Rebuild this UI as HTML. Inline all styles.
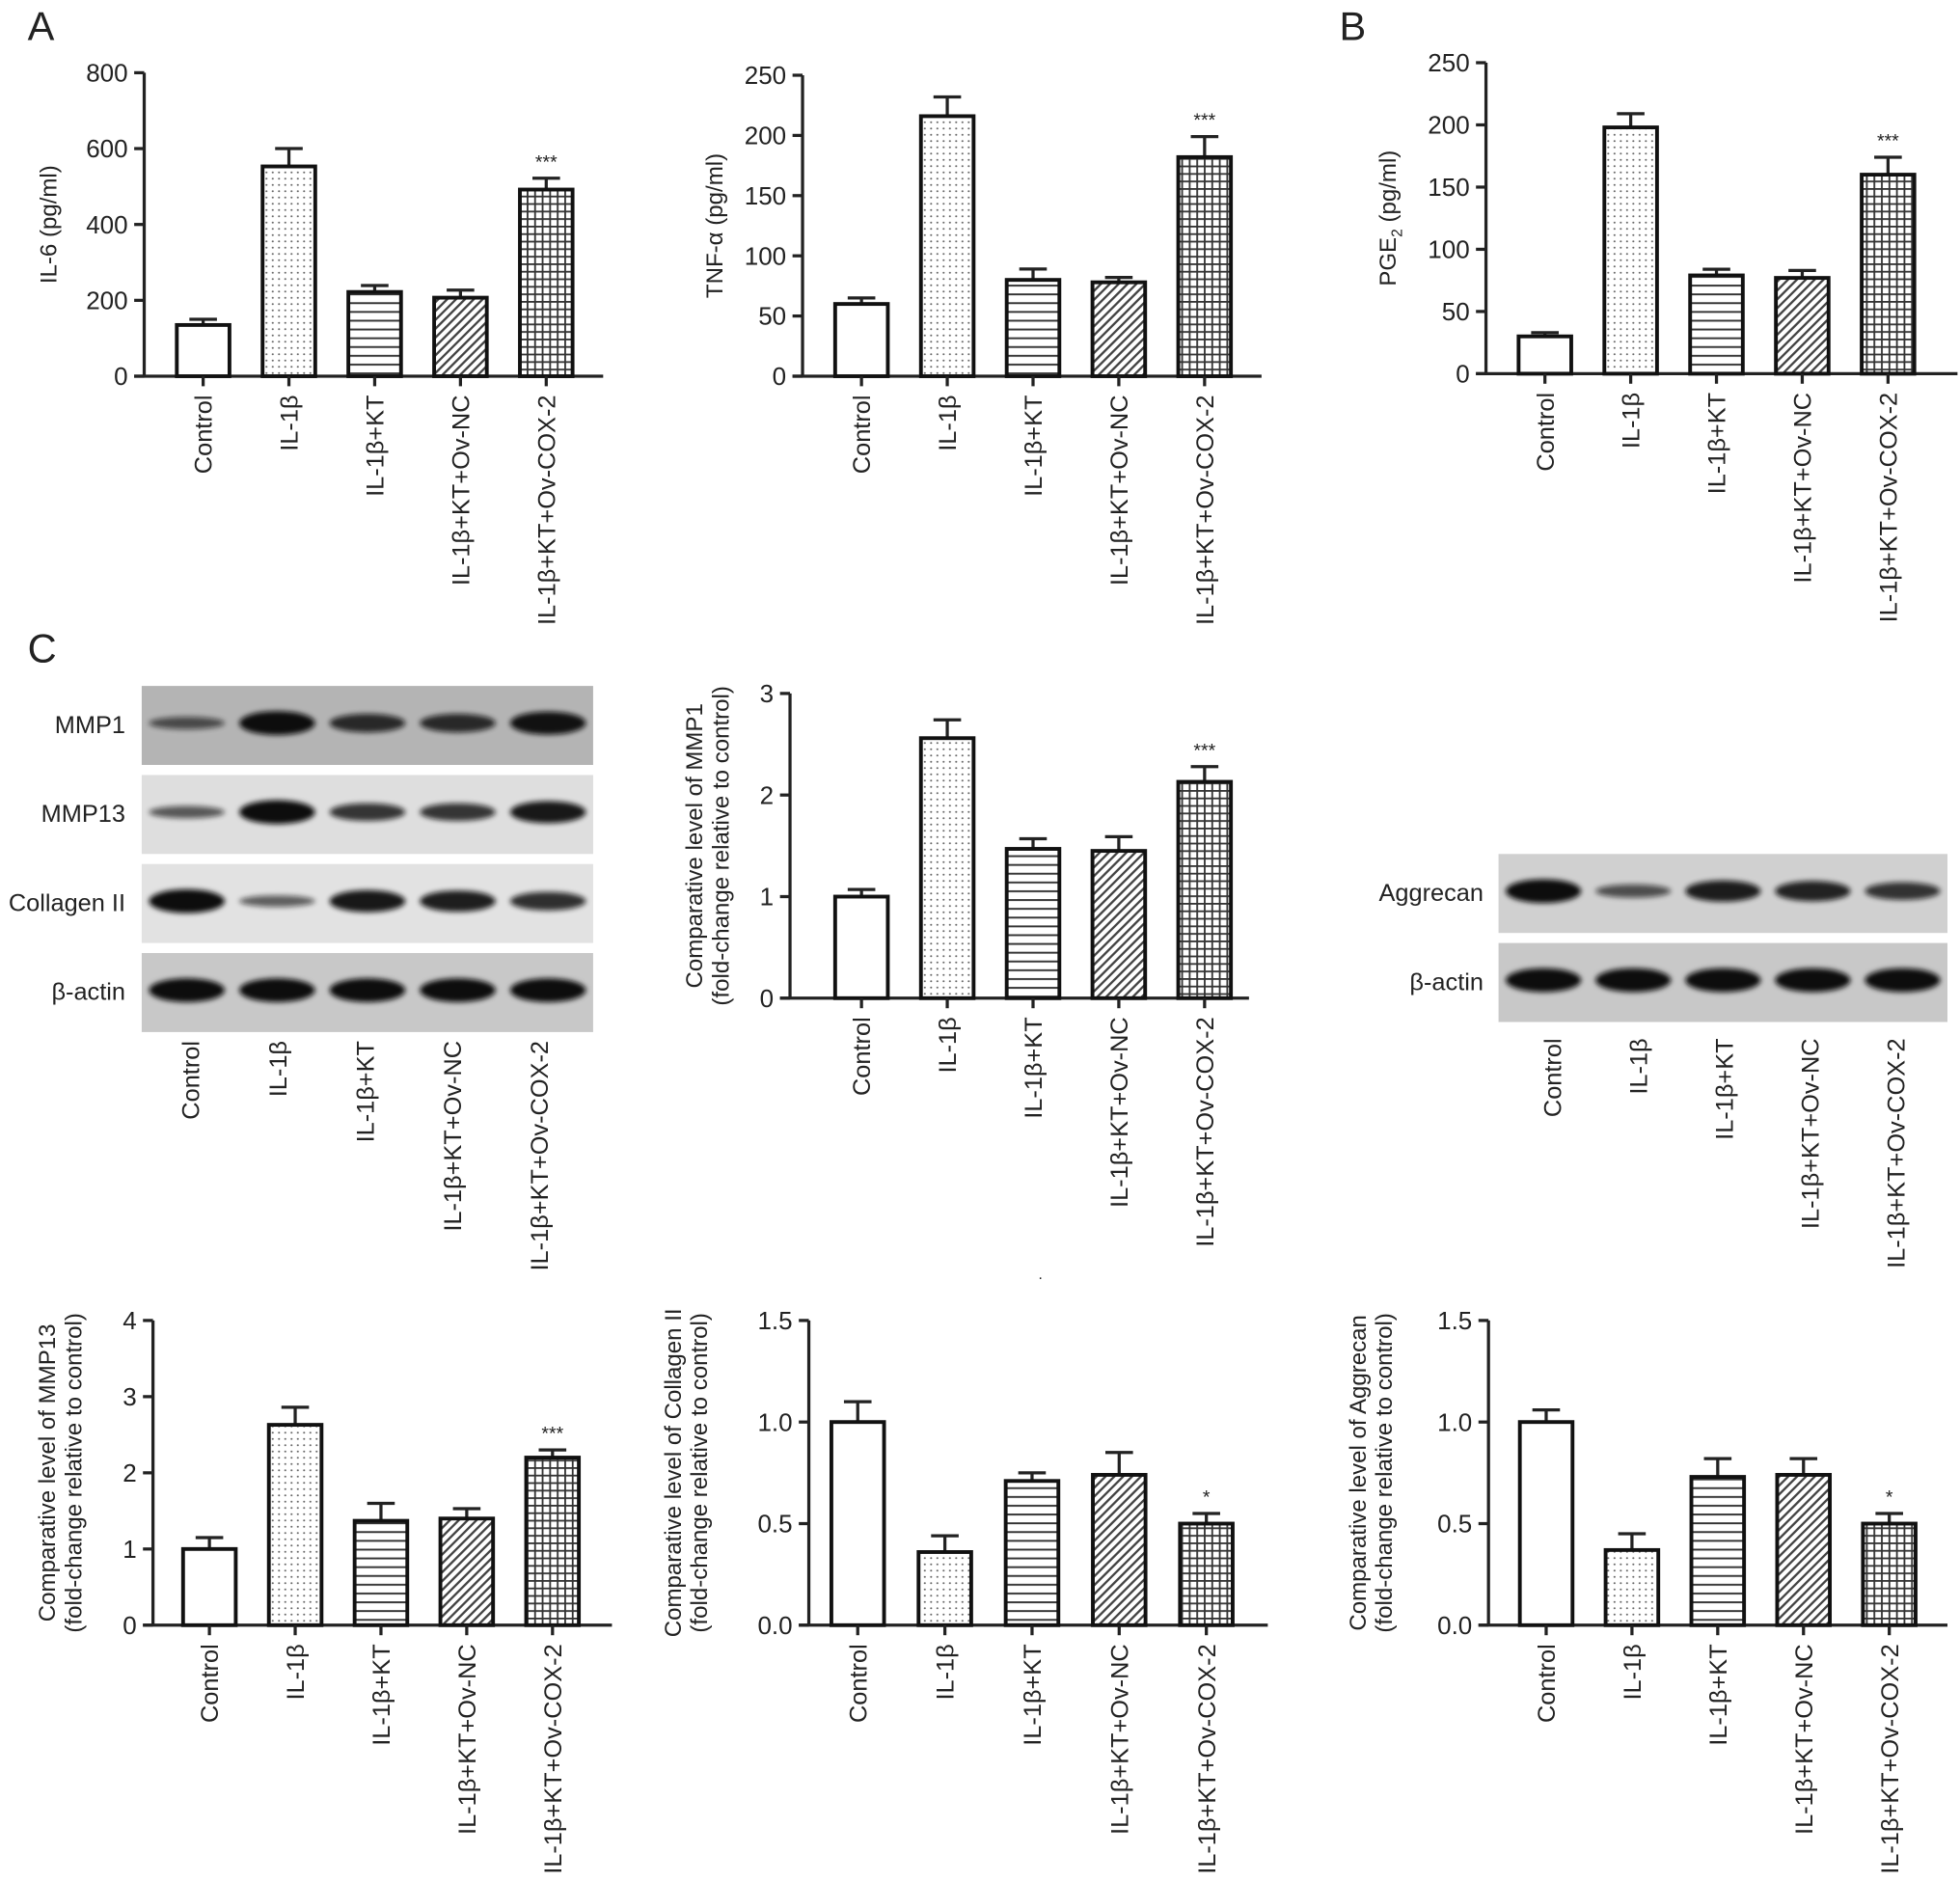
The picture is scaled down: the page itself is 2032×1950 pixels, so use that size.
<!DOCTYPE html>
<html><head><meta charset="utf-8"><style>
html,body{margin:0;padding:0;background:#fff;}
svg{display:block;}
text{font-family:"Liberation Sans",Arial,sans-serif;fill:#222;}
</style></head><body>
<svg id="fig" width="2032" height="1950" viewBox="0 0 1563 1500" preserveAspectRatio="none" xmlns="http://www.w3.org/2000/svg">
<defs>
<pattern id="pDots" width="5" height="5" patternUnits="userSpaceOnUse"><rect width="5" height="5" fill="#fff"/><circle cx="2.5" cy="2.5" r="0.8" fill="#666"/></pattern>
<pattern id="pHoriz" width="6" height="7" patternUnits="userSpaceOnUse"><rect width="6" height="7" fill="#fff"/><rect y="3" width="6" height="1.5" fill="#333"/></pattern>
<pattern id="pDiag" width="5" height="5" patternUnits="userSpaceOnUse" patternTransform="rotate(45)"><rect width="5" height="5" fill="#fff"/><rect width="1.8" height="5" fill="#444"/></pattern>
<pattern id="pGrid" width="6" height="6" patternUnits="userSpaceOnUse"><rect width="6" height="6" fill="#fff"/><rect width="6" height="1.4" fill="#333"/><rect width="1.4" height="6" fill="#333"/></pattern>
<filter id="blur" x="-20%" y="-100%" width="140%" height="300%"><feGaussianBlur stdDeviation="2"/></filter>
</defs>
<text x="22" y="32" font-size="32">A</text>
<text x="1068" y="32" font-size="32">B</text>
<text x="22" y="528" font-size="32">C</text>
<text x="828" y="1020" font-size="12">.</text>
</svg>
<script>
const categories=["Control","IL-1β","IL-1β+KT","IL-1β+KT+Ov-NC","IL-1β+KT+Ov-COX-2"];
const il6Values=[135,553,222,207,492];
const il6Errors=[15,47,17,20,30];
const il6Ticks=[0,200,400,600,800];
const tnfValues=[60,216,80,78,182];
const tnfErrors=[5,16,9,4,17];
const tnfTicks=[0,50,100,150,200,250];
const pgeValues=[30,198,79,77,160];
const pgeErrors=[3,11,5,6,14];
const pgeTicks=[0,50,100,150,200,250];
const mmp1Values=[1.0,2.56,1.47,1.45,2.13];
const mmp1Errors=[0.07,0.18,0.1,0.14,0.15];
const mmp1Ticks=[0,1,2,3];
const mmp13Values=[1.0,2.63,1.37,1.4,2.2];
const mmp13Errors=[0.15,0.23,0.23,0.13,0.1];
const mmp13Ticks=[0,1,2,3,4];
const colValues=[1.0,0.36,0.71,0.74,0.50];
const colErrors=[0.1,0.08,0.04,0.11,0.05];
const colTicks=["0.0","0.5","1.0","1.5"];
const aggValues=[1.0,0.37,0.73,0.74,0.50];
const aggErrors=[0.06,0.08,0.09,0.08,0.05];
const aggTicks=["0.0","0.5","1.0","1.5"];
const sigMarks=["","","","","***"];
const sigMarksSingle=["","","","","*"];
const blotMMP1=[0.35,1,0.7,0.7,0.95];
const blotMMP13=[0.35,1,0.65,0.65,0.9];
const blotCol=[1,0.3,0.9,0.85,0.7];
const blotActin=[1,1,1,1,1];
const blotAgg=[1,0.4,0.85,0.8,0.65];
const blotActin2=[1,1,1,1,1];

const NS="http://www.w3.org/2000/svg";
const svg=document.getElementById('fig');
const fills=["#fff","url(#pDots)","url(#pHoriz)","url(#pDiag)","url(#pGrid)"];
function mk(tag,attrs,parent){const e=document.createElementNS(NS,tag);for(const k in attrs)e.setAttribute(k,attrs[k]);(parent||svg).appendChild(e);return e;}

function drawChart(name,cfg,values,errors,ticks,sig){
  const g=mk('g',{});
  
  
  const max=parseFloat(ticks[ticks.length-1]);
  const yS=v=>cfg.yBot-(v/max)*(cfg.yBot-cfg.yTop);
  const xS=i=>cfg.c0+i*cfg.step;
  const ya=mk('line',{x1:cfg.x0,y1:cfg.yTop,x2:cfg.x0,y2:cfg.yBot,stroke:'#222','stroke-width':2.5},g);
  
  
  const xa=mk('line',{x1:cfg.x0-8,y1:cfg.yBot,x2:cfg.x0+cfg.len,y2:cfg.yBot,stroke:'#222','stroke-width':2.5},g);
  
  
  ticks.forEach(t=>{
    const y=yS(parseFloat(t));
    mk('line',{x1:cfg.x0-8,y1:y,x2:cfg.x0,y2:y,stroke:'#222','stroke-width':2.5},g);
    const tl=mk('text',{x:cfg.x0-13,y:y+7,'font-size':20,'text-anchor':'end'},g);
    tl.textContent=t;
    
    
  });
  values.forEach((v,i)=>{
    const cx=xS(i),top=yS(v),etop=yS(v+errors[i]);
    mk('line',{x1:cx,y1:top,x2:cx,y2:etop,stroke:'#222','stroke-width':2.5},g);
    mk('line',{x1:cx-11,y1:etop,x2:cx+11,y2:etop,stroke:'#222','stroke-width':2.5},g);
    const b=mk('rect',{x:cx-21,y:top,width:42,height:cfg.yBot-top,fill:fills[i],stroke:'#111','stroke-width':3},g);
    
    
    mk('line',{x1:cx,y1:cfg.yBot,x2:cx,y2:cfg.yBot+8,stroke:'#222','stroke-width':2.5},g);
    const cl=mk('text',{transform:`translate(${cx+7},${cfg.yBot+15}) rotate(-90)`,'font-size':19.5,'text-anchor':'end'},g);
    cl.textContent=categories[i];
    
    
    if(sig[i]){
      const s=mk('text',{x:cx,y:etop-8,'font-size':15,'text-anchor':'middle'},g);
      s.textContent=sig[i];
      
      
    }
  });
  const midY=(cfg.yTop+cfg.yBot)/2;
  cfg.title.forEach((line,k)=>{
    const tx=cfg.x0-cfg.tOff+k*21;
    const t=mk('text',{transform:`translate(${tx},${midY}) rotate(-90)`,'font-size':18.5,'text-anchor':'middle'},g);
    t.innerHTML=line;
    
    
  });
}

drawChart('il6',{x0:115,yTop:58,yBot:300,c0:162,step:68.4,len:366,title:['IL-6 (pg/ml)'],tOff:70},il6Values,il6Errors,il6Ticks,sigMarks);
drawChart('tnf',{x0:640,yTop:60,yBot:300,c0:687,step:68.4,len:366,title:['TNF-α (pg/ml)'],tOff:64},tnfValues,tnfErrors,tnfTicks,sigMarks);
drawChart('pge2',{x0:1185,yTop:50,yBot:298,c0:1232,step:68.4,len:376,title:['PGE<tspan font-size="12" dy="5">2</tspan><tspan dy="-5"> (pg/ml)</tspan>'],tOff:72},pgeValues,pgeErrors,pgeTicks,sigMarks);
drawChart('mmp1',{x0:630,yTop:553,yBot:796,c0:687,step:68.4,len:366,title:['Comparative level of MMP1','(fold-change relative to control)'],tOff:70},mmp1Values,mmp1Errors,mmp1Ticks,sigMarks);
drawChart('mmp13',{x0:122,yTop:1053,yBot:1296,c0:167,step:68.4,len:366,title:['Comparative level of MMP13','(fold-change relative to control)'],tOff:78},mmp13Values,mmp13Errors,mmp13Ticks,sigMarks);
drawChart('collagen',{x0:645,yTop:1053,yBot:1296,c0:684,step:69.5,len:366,title:['Comparative level of Collagen II','(fold-change relative to control)'],tOff:102},colValues,colErrors,colTicks,sigMarksSingle);
drawChart('aggrecan',{x0:1187,yTop:1053,yBot:1296,c0:1233,step:68.4,len:366,title:['Comparative level of Aggrecan','(fold-change relative to control)'],tOff:98},aggValues,aggErrors,aggTicks,sigMarksSingle);

function drawBlot(name,label,x,y,w,h,bg,bands,labelX){
  const g=mk('g',{});
  
  
  mk('rect',{x:x,y:y,width:w,height:h,fill:bg},g);
  const lw=w/5;
  bands.forEach((s,i)=>{
    const cx=x+lw*(i+0.5);
    const e=mk('ellipse',{cx:cx,cy:y+h*0.47,rx:lw*0.42,ry:2.5+7*s,fill:'#111',opacity:0.45+0.55*s,filter:'url(#blur)'},g);
    
    
  });
  const t=mk('text',{x:labelX,y:y+h/2+6,'font-size':19.5,'text-anchor':'end'},g);
  t.textContent=label;
  
  
}
drawBlot('mmp1','MMP1',113,547,360,63,'#b4b4b4',blotMMP1,100);
drawBlot('mmp13','MMP13',113,618,360,63,'#dedede',blotMMP13,100);
drawBlot('collagen','Collagen II',113,689,360,63,'#e2e2e2',blotCol,100);
drawBlot('actin','β-actin',113,760,360,63,'#c8c8c8',blotActin,100);
drawBlot('aggrecan','Aggrecan',1195,681,358,63,'#d0d0d0',blotAgg,1183);
drawBlot('actin2','β-actin',1195,752,358,63,'#c8c8c8',blotActin2,1183);

function blotLabels(c0,step,y){
  categories.forEach((c,i)=>{
    const t=mk('text',{transform:`translate(${c0+i*step+7},${y}) rotate(-90)`,'font-size':19.5,'text-anchor':'end'});
    t.textContent=c;
    
    
  });
}
blotLabels(152,69.5,830);
blotLabels(1238,68.4,828);
</script>
</body></html>
